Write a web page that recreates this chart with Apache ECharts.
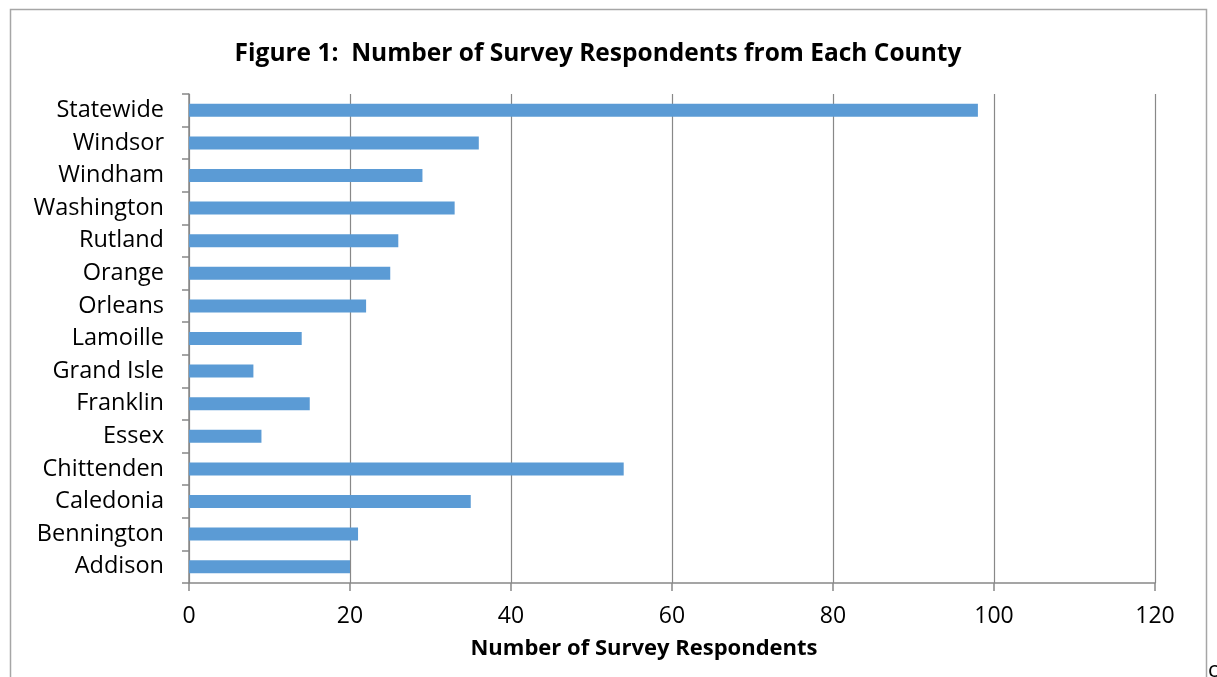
<!DOCTYPE html>
<html><head><meta charset="utf-8">
<script src="https://cdn.jsdelivr.net/npm/echarts@6/dist/echarts.min.js"></script>
<style>html,body{margin:0;padding:0;background:#fff}#c{width:1217px;height:677px}</style>
</head><body><div id="c"></div>
<script>
const categories = ["Addison","Bennington","Caledonia","Chittenden","Essex","Franklin","Grand Isle","Lamoille","Orleans","Orange","Rutland","Washington","Windham","Windsor","Statewide"];
const respondents = [20,21,35,54,9,15,8,14,22,25,26,33,29,36,98];
const xTicks = [0,20,40,60,80,100,120];
const titleText = "Figure 1:  Number of Survey Respondents from Each County";
const xAxisName = "Number of Survey Respondents";

const font = "'Open Sans', 'Noto Sans', sans-serif";
const chart = echarts.init(document.getElementById('c'), null, {renderer:'canvas'});
chart.setOption({
  animation:false,
  backgroundColor:'#fff',
  title:[
    {text:titleText, left:593, top:37, textAlign:'center',
     textStyle:{fontFamily:font, fontSize:24.5, fontWeight:'bold', color:'#000'}},
    {text:xAxisName, left:639, top:633, textAlign:'center',
     textStyle:{fontFamily:font, fontSize:22, fontWeight:'bold', color:'#000'}}
  ],
  graphic:[
    {type:'rect', shape:{x:10.5,y:9.5,width:1196,height:720}, style:{fill:'none', stroke:'#a6a6a6', lineWidth:1.5}, silent:true},
    {type:'text', left:1208, top:660, style:{text:'c', font:"22px 'Open Sans', sans-serif", fill:'#000'}}
  ],
  grid:{left:189, right:62, top:94, bottom:94, containLabel:false},
  xAxis:{type:'value', min:xTicks[0], max:xTicks[xTicks.length-1], interval:20,
    axisLine:{show:true, lineStyle:{color:'#888', width:1.5}},
    axisTick:{show:true, length:8, lineStyle:{color:'#888', width:1.5}},
    axisLabel:{fontFamily:font, fontSize:23, color:'#000', margin:22},
    splitLine:{show:true, lineStyle:{color:'#888', width:1.2}}
  },
  yAxis:{type:'category', data:categories,
    axisLine:{show:true, lineStyle:{color:'#888', width:1.5}},
    axisTick:{show:true, length:7, lineStyle:{color:'#888', width:1.5}},
    axisLabel:{fontFamily:font, fontSize:23.5, color:'#000', margin:25},
    splitLine:{show:false}
  },
  series:[{type:'bar', data:respondents, barWidth:13,
    itemStyle:{color:'#5b9bd5'}}]
});
</script></body></html>
